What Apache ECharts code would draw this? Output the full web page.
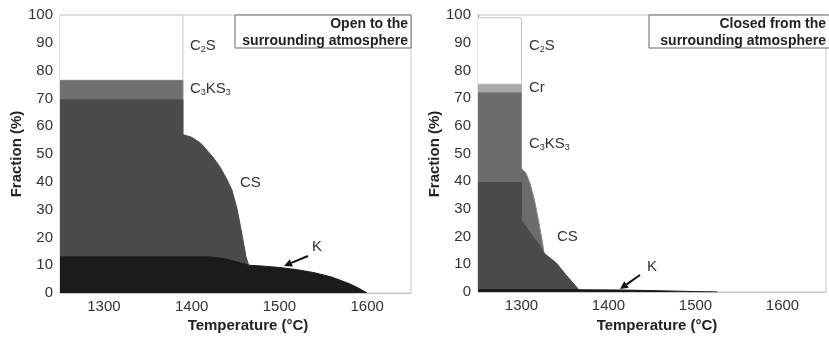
<!DOCTYPE html>
<html>
<head>
<meta charset="utf-8">
<script src="https://cdn.jsdelivr.net/npm/echarts@6/dist/echarts.min.js"></script>
<style>html,body{margin:0;padding:0;background:#fff}#c{width:829px;height:338px}</style>
</head>
<body>
<div id="c"></div>
<script>
// ---------- data (top boundary of each phase region, cumulative Fraction %) ----------
const xTicks = [1300, 1400, 1500, 1600];
const yTicks = [0, 10, 20, 30, 40, 50, 60, 70, 80, 90, 100];

// Open to the surrounding atmosphere
const openC2S_T   = [1250, 1390, 1390];
const openC2S_F   = [100, 100, 0];
const openC3KS3_T = [1250, 1390, 1390];
const openC3KS3_F = [76.5, 76.5, 0];
const openCS_T    = [1250, 1390, 1390, 1400, 1410, 1424, 1432, 1440, 1446, 1452, 1458, 1462, 1465];
const openCS_F    = [69.5, 69.5, 57, 56, 54, 49, 45.5, 41, 37, 30, 20, 13, 10];
const openK_T     = [1250, 1420, 1435, 1450, 1465, 1480, 1500, 1520, 1540, 1560, 1580, 1590, 1600];
const openK_F     = [13, 13, 12.5, 11.3, 10, 9.7, 9.2, 8.4, 7.3, 5.7, 3.3, 1.8, 0];

// Closed from the surrounding atmosphere
const closedC2S_T   = [1250, 1300, 1300];
const closedC2S_F   = [99, 99, 0];
const closedCr_T    = [1250, 1300, 1300];
const closedCr_F    = [75, 75, 0];
const closedC3KS3_T = [1250, 1300, 1300, 1305, 1310, 1315, 1320, 1324, 1326];
const closedC3KS3_F = [72, 72, 44.5, 43, 39, 33, 25, 18, 14];
const closedCS_T    = [1250, 1300, 1300, 1309, 1321, 1326, 1340, 1351, 1366];
const closedCS_F    = [39.5, 39.5, 26, 21.8, 16.7, 14, 10.5, 6.2, 0.8];
const closedK_T     = [1250, 1370, 1420, 1450, 1480, 1500, 1525];
const closedK_F     = [0.8, 0.8, 0.7, 0.5, 0.3, 0.15, 0];

// ---------- chart ----------
const pairs = (t, f) => t.map((v, i) => [v, f[i]]);
const FONT = '"Liberation Sans", Arial, sans-serif';

function area(name, t, f, idx, z, fill, line) {
  return {
    name, type: 'line', xAxisIndex: idx, yAxisIndex: idx, z: z,
    data: pairs(t, f), showSymbol: false, symbol: 'none', animation: false,
    lineStyle: { color: line || fill, width: 1 },
    areaStyle: { color: fill, opacity: 1, origin: 'start' }
  };
}

function xAx(idx) {
  return {
    type: 'value', gridIndex: idx, min: 1250, max: 1650, interval: 50,
    axisLine: { show: true, lineStyle: { color: '#c8c8c8' } },
    axisTick: { show: false },
    splitLine: { show: false },
    axisLabel: {
      color: '#333', fontSize: 15, fontFamily: FONT, margin: 6,
      formatter: v => xTicks.includes(v) ? String(v) : ''
    }
  };
}
function yAx(idx) {
  return {
    type: 'value', gridIndex: idx, min: 0, max: 100, interval: 10,
    axisLine: { show: true, lineStyle: { color: '#999' } },
    axisTick: { show: false },
    splitLine: { show: false },
    axisLabel: {
      color: '#333', fontSize: 15, fontFamily: FONT, margin: 7,
      formatter: v => yTicks.includes(v) ? String(v) : ''
    }
  };
}

const richBase = {
  a: { fontSize: 15, fontFamily: FONT, fill: '#333', color: '#333' },
  s: { fontSize: 9, fontFamily: FONT, fill: '#333', color: '#333', padding: [8, 0, 0, 0] }
};
function lbl(x, y, text) {
  return { type: 'text', left: x, top: y, z: 100,
    style: { text, rich: richBase, fill: '#333', font: '15px ' + FONT } };
}
function arrow(x1, y1, x2, y2) {
  const ang = Math.atan2(y2 - y1, x2 - x1), L = 8, W = 4;
  const bx = x2 - L * Math.cos(ang), by = y2 - L * Math.sin(ang);
  const px = -Math.sin(ang) * W, py = Math.cos(ang) * W;
  return [
    { type: 'line', z: 100, shape: { x1, y1, x2: bx, y2: by }, style: { stroke: '#111', lineWidth: 2 } },
    { type: 'polygon', z: 100, shape: { points: [[x2, y2], [bx + px, by + py], [bx - px, by - py]] }, style: { fill: '#111' } }
  ];
}
function box(x, y, w, h, tx, l1, l2) {
  return [
    { type: 'rect', z: 100, shape: { x, y, width: w, height: h }, style: { fill: '#fff', stroke: '#666', lineWidth: 1 } },
    { type: 'text', z: 101, x: tx, y: y + 9, style: { text: l1, align: 'right', verticalAlign: 'middle', font: 'bold 14px ' + FONT, fill: '#222' } },
    { type: 'text', z: 101, x: tx, y: y + 26, style: { text: l2, align: 'right', verticalAlign: 'middle', font: 'bold 14px ' + FONT, fill: '#222' } }
  ];
}

const chart = echarts.init(document.getElementById('c'), null, { renderer: 'canvas' });
chart.setOption({
  backgroundColor: '#fff',
  animation: false,
  grid: [
    { left: 60, top: 15, width: 351, height: 278, show: true, borderColor: '#c8c8c8', borderWidth: 1, backgroundColor: '#fff' },
    { left: 478, top: 15, width: 352, height: 277, show: true, borderColor: '#c8c8c8', borderWidth: 1, backgroundColor: '#fff' }
  ],
  xAxis: [xAx(0), xAx(1)],
  yAxis: [yAx(0), yAx(1)],
  series: [
    area('C2S', openC2S_T, openC2S_F, 0, 3, '#ffffff', '#c4c4c4'),
    area('C3KS3', openC3KS3_T, openC3KS3_F, 0, 4, '#707070', '#7c7c7c'),
    area('CS', openCS_T, openCS_F, 0, 5, '#4b4b4b'),
    area('K', openK_T, openK_F, 0, 6, '#1b1b1b'),
    area('C2S', closedC2S_T, closedC2S_F, 1, 3, '#ffffff', '#c4c4c4'),
    area('Cr', closedCr_T, closedCr_F, 1, 4, '#a9a9a9', '#b4b4b4'),
    area('C3KS3', closedC3KS3_T, closedC3KS3_F, 1, 5, '#6c6c6c', '#858585'),
    area('CS', closedCS_T, closedCS_F, 1, 6, '#4a4a4a'),
    area('K', closedK_T, closedK_F, 1, 7, '#1b1b1b')
  ],
  graphic: [
    { type: 'text', x: 17, y: 154, rotation: Math.PI / 2, z: 100,
      style: { text: 'Fraction (%)', align: 'center', verticalAlign: 'middle', font: 'bold 15px ' + FONT, fill: '#222' } },
    { type: 'text', x: 435, y: 154, rotation: Math.PI / 2, z: 100,
      style: { text: 'Fraction (%)', align: 'center', verticalAlign: 'middle', font: 'bold 15px ' + FONT, fill: '#222' } },
    { type: 'text', x: 248, y: 326, z: 100,
      style: { text: 'Temperature (°C)', align: 'center', verticalAlign: 'middle', font: 'bold 15px ' + FONT, fill: '#222' } },
    { type: 'text', x: 657, y: 326, z: 100,
      style: { text: 'Temperature (°C)', align: 'center', verticalAlign: 'middle', font: 'bold 15px ' + FONT, fill: '#222' } },
    ...box(235, 15, 176, 33, 408, 'Open to the', 'surrounding atmosphere'),
    ...box(649, 15, 185, 33, 826, 'Closed from the', 'surrounding atmosphere'),
    lbl(190, 38, '{a|C}{s|2}{a|S}'),
    lbl(190, 81, '{a|C}{s|3}{a|KS}{s|3}'),
    lbl(240, 175, '{a|CS}'),
    lbl(312, 239, '{a|K}'),
    ...arrow(308, 256, 284, 266),
    lbl(529, 38, '{a|C}{s|2}{a|S}'),
    lbl(529, 80, '{a|Cr}'),
    lbl(529, 136, '{a|C}{s|3}{a|KS}{s|3}'),
    lbl(557, 229, '{a|CS}'),
    lbl(647, 259, '{a|K}'),
    ...arrow(640, 275, 620, 289)
  ]
});
</script>
</body>
</html>
